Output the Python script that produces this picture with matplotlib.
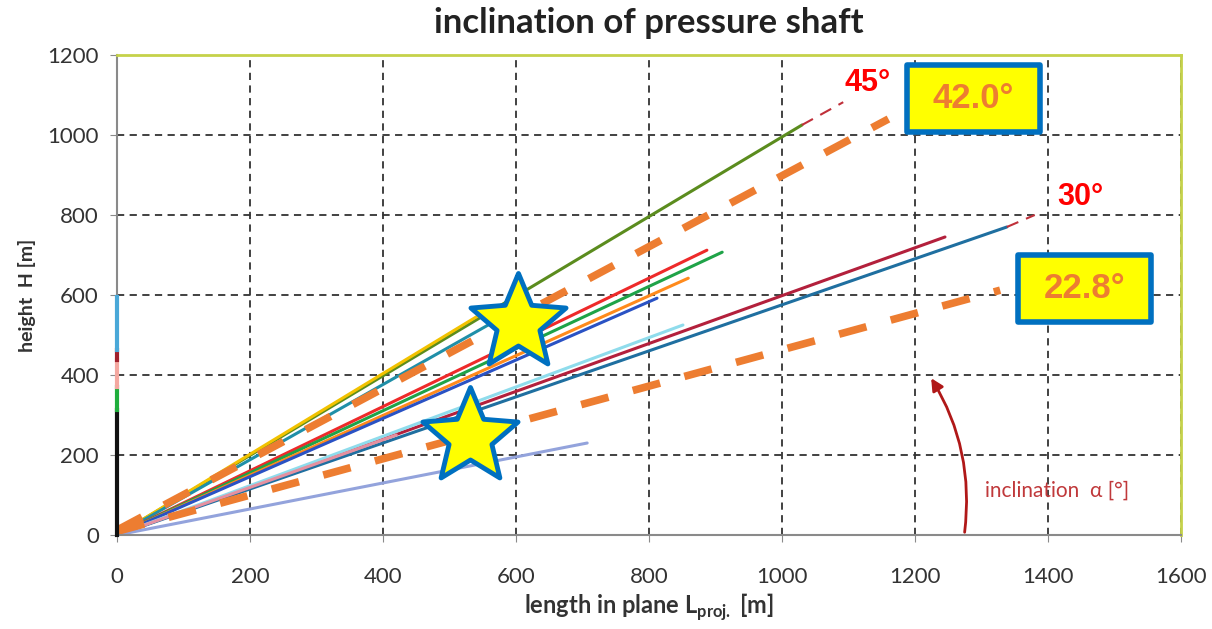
import numpy as np
import matplotlib
matplotlib.use('Agg')
import matplotlib.pyplot as plt
from matplotlib.patches import Rectangle
from matplotlib.path import Path

plt.rcParams['font.family'] = ['Lato', 'DejaVu Sans']
plt.rcParams['mathtext.fontset'] = 'custom'
plt.rcParams['mathtext.bf'] = 'Lato:bold'
plt.rcParams['mathtext.rm'] = 'Lato'

# shafts: end point of each line drawn from the origin (length, height)
shaft_colors = ['#5b8c1e', '#f2c200', '#1f8fa8', '#ee2a2a', '#1fa348', '#ff8a1c',
                '#2a52c4', '#b3203c', '#1f6fa0', '#8fdcec', '#e590a0', '#93a3dc']
shaft_len = [1030, 545, 590, 887, 910, 859, 812, 1245, 1338, 851, 420, 707]
shaft_h = [1025, 550, 555, 712, 707, 642, 592, 745, 770, 525, 250, 230]

# vertical-only points on the height axis (bottom, top)
vert_colors = ['#111111', '#1fae3c', '#f4a8a0', '#a0202c', '#4aa8d8']
vert_bot = [0, 312, 370, 437, 462]
vert_top = [312, 370, 437, 462, 595]

# reference inclinations (extensions to 45 and 30 deg)
ref_x0 = [1030, 1338]
ref_y0 = [1025, 770]
ref_x1 = [1092, 1380]
ref_y1 = [1082, 800]
ref_labels = ['45°', '30°']

# orange dashed inclinations
incl_x = [[0, 1160], [0, 1328]]
incl_y = [[12, 1040], [9, 612]]
incl_labels = ['42.0°', '22.8°']

# stars
star_x = [603, 531]
star_y = [530, 245]

fig = plt.figure(figsize=(12.12, 6.29), dpi=100)
ax = fig.add_axes([0.0965, 0.1494, 0.878, 0.7632])
ax.set_xlim(0, 1600)
ax.set_ylim(0, 1200)
ax.set_xticks(np.arange(0, 1601, 200))
ax.set_yticks(np.arange(0, 1201, 200))
ax.grid(True, color='#333333', linestyle=(0, (4, 3)), linewidth=1.3)
ax.set_axisbelow(True)

for s in ['left', 'bottom']:
    ax.spines[s].set_color('#8a8a8a')
    ax.spines[s].set_linewidth(1.5)
for s in ['top', 'right']:
    ax.spines[s].set_color('#c5d24a')
    ax.spines[s].set_linewidth(2)

ax.tick_params(axis='both', colors='#8a8a8a', length=5, labelsize=16, labelcolor='#333333', pad=8)
ax.tick_params(axis='x', pad=18)

for c, lx, hy in zip(shaft_colors, shaft_len, shaft_h):
    ax.plot([0, lx], [0, hy], color=c, lw=2.2, solid_capstyle='round')

for c, b, t in zip(vert_colors, vert_bot, vert_top):
    ax.plot([0, 0], [b, t], color=c, lw=3, clip_on=False, zorder=4)

for x0, y0, x1, y1 in zip(ref_x0, ref_y0, ref_x1, ref_y1):
    ax.plot([x0, x1], [y0, y1], color='#c0303a', lw=1.5, linestyle=(0, (6, 4)))

ax.text(1129, 1130, ref_labels[0], color='#ff0000', fontsize=22, fontweight='bold',
        family='Liberation Sans', ha='center', va='center')
ax.text(1448, 845, ref_labels[1], color='#ff0000', fontsize=22, fontweight='bold',
        family='Liberation Sans', ha='center', va='center')

for xs, ys in zip(incl_x, incl_y):
    ax.plot(xs, ys, color='#ed7d31', lw=5.5, linestyle=(0, (3.7, 3.3)), solid_capstyle='butt')

# boxes with inclination values
box_pos = [(1188, 1007), (1355, 532)]
for (bx, by), lab in zip(box_pos, incl_labels):
    ax.add_patch(Rectangle((bx, by), 200, 168, facecolor='#ffff00', edgecolor='#0070c0',
                           lw=4, zorder=5, joinstyle='round'))
    ax.text(bx + 100, by + 84, lab, color='#ed7d31', fontsize=25, fontweight='bold',
            family='Liberation Sans', ha='center', va='center', zorder=6)

star = Path.unit_regular_star(5, innerCircle=0.45)
ax.plot(star_x, star_y, linestyle='none', marker=star, markersize=72,
        markerfacecolor='#ffff00', markeredgecolor='#0070c0', markeredgewidth=3.5, zorder=7)

ax.annotate('', xy=(1222, 398), xytext=(1274, 0),
            arrowprops=dict(arrowstyle='-|>', color='#b01818', lw=2,
                            connectionstyle='arc3,rad=0.18', mutation_scale=18))
ax.text(1305, 112, 'inclination  α [°]', color='#c0393b', fontsize=15,
        ha='left', va='center')

ax.set_title('inclination of pressure shaft', fontsize=25, fontweight='bold', color='#222222', pad=16)
ax.set_xlabel(r'length in plane L$_{\mathbf{proj.}}$ [m]', fontsize=17, fontweight='bold',
              color='#333333', labelpad=3)
ax.set_ylabel('height  H [m]', fontsize=14, fontweight='bold', color='#333333', labelpad=8)

fig.savefig('out.png', dpi=100)
